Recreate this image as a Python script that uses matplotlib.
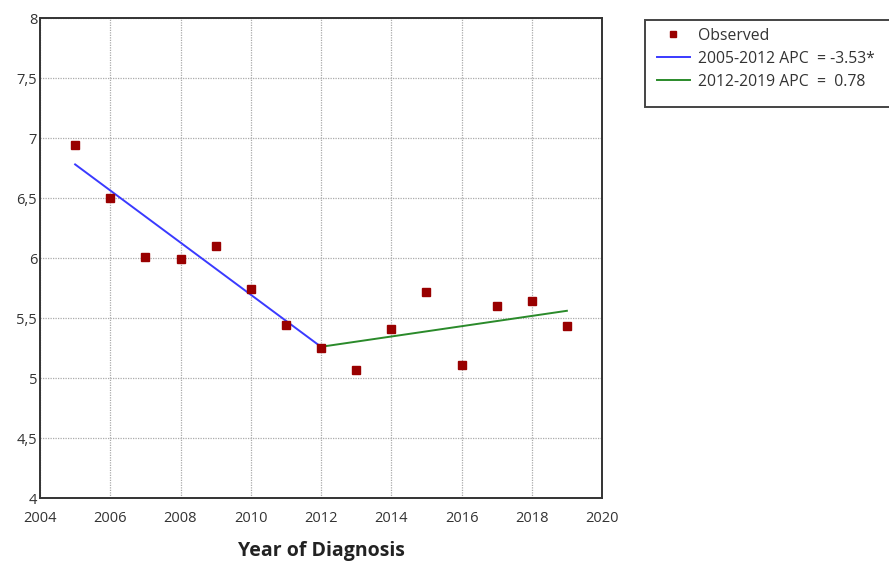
import matplotlib
matplotlib.use('Agg')
import matplotlib.pyplot as plt
from matplotlib.patches import Rectangle
from matplotlib.ticker import FuncFormatter, MultipleLocator

plt.rcParams['font.family'] = ['Open Sans', 'DejaVu Sans']

# observed rates by year of diagnosis
years = [2005, 2006, 2007, 2008, 2009, 2010, 2011, 2012,
         2013, 2014, 2015, 2016, 2017, 2018, 2019]
observed = [6.94, 6.50, 6.01, 5.99, 6.10, 5.74, 5.44, 5.25,
            5.07, 5.41, 5.72, 5.11, 5.60, 5.64, 5.43]

# joinpoint segments (fitted values at segment ends)
seg1_years = [2005, 2012]
seg1_fit = [6.78, 5.26]
seg2_years = [2012, 2019]
seg2_fit = [5.26, 5.56]

labels = ['Observed', '2005-2012 APC  = -3.53*', '2012-2019 APC  =  0.78']

W, H = 889, 562
fig = plt.figure(figsize=(W / 100, H / 100), dpi=100)
ax = fig.add_axes([40 / W, 1 - 498 / H, 562 / W, 480 / H])

ax.plot(years, observed, linestyle='none', marker='s', markersize=5.8,
        color='#990000', markeredgecolor='#990000', label=labels[0], zorder=4)
ax.plot(seg1_years, seg1_fit, color='#3a3aff', lw=1.4, label=labels[1], zorder=3)
ax.plot(seg2_years, seg2_fit, color='#2a8a2a', lw=1.4, label=labels[2], zorder=3)

ax.set_xlim(2004, 2020)
ax.set_ylim(4, 8)
ax.xaxis.set_major_locator(MultipleLocator(2))
ax.yaxis.set_major_locator(MultipleLocator(0.5))
ax.yaxis.set_major_formatter(FuncFormatter(lambda v, p: ('%g' % v).replace('.', ',')))
ax.tick_params(length=0, labelsize=10.5, colors='#333333')
ax.tick_params(axis='y', pad=2)
ax.tick_params(axis='x', pad=9)
ax.grid(True, color='#aaaaaa', linestyle=(0, (1, 1)), lw=0.9)
for s in ax.spines.values():
    s.set_color('#333333')
    s.set_linewidth(1.4)

ax.set_xlabel('Year of Diagnosis', fontsize=14, fontweight='bold', color='#222222', labelpad=11)

# legend box runs off the right edge
box = Rectangle((645 / W, 1 - 107 / H), 260 / W, 87 / H, transform=fig.transFigure,
                facecolor='white', edgecolor='#444444', lw=1.4, clip_on=False, zorder=1)
fig.patches.append(box)

leg = fig.legend(loc='upper left', bbox_to_anchor=(649 / W, 1 - 20 / H),
                 fontsize=11.3, frameon=False, handlelength=2.1, handletextpad=0.5,
                 markerscale=0.8, borderpad=0.5, labelspacing=0.45, borderaxespad=0)
for t in leg.get_texts():
    t.set_color('#333333')

fig.savefig('out.png', dpi=100)
